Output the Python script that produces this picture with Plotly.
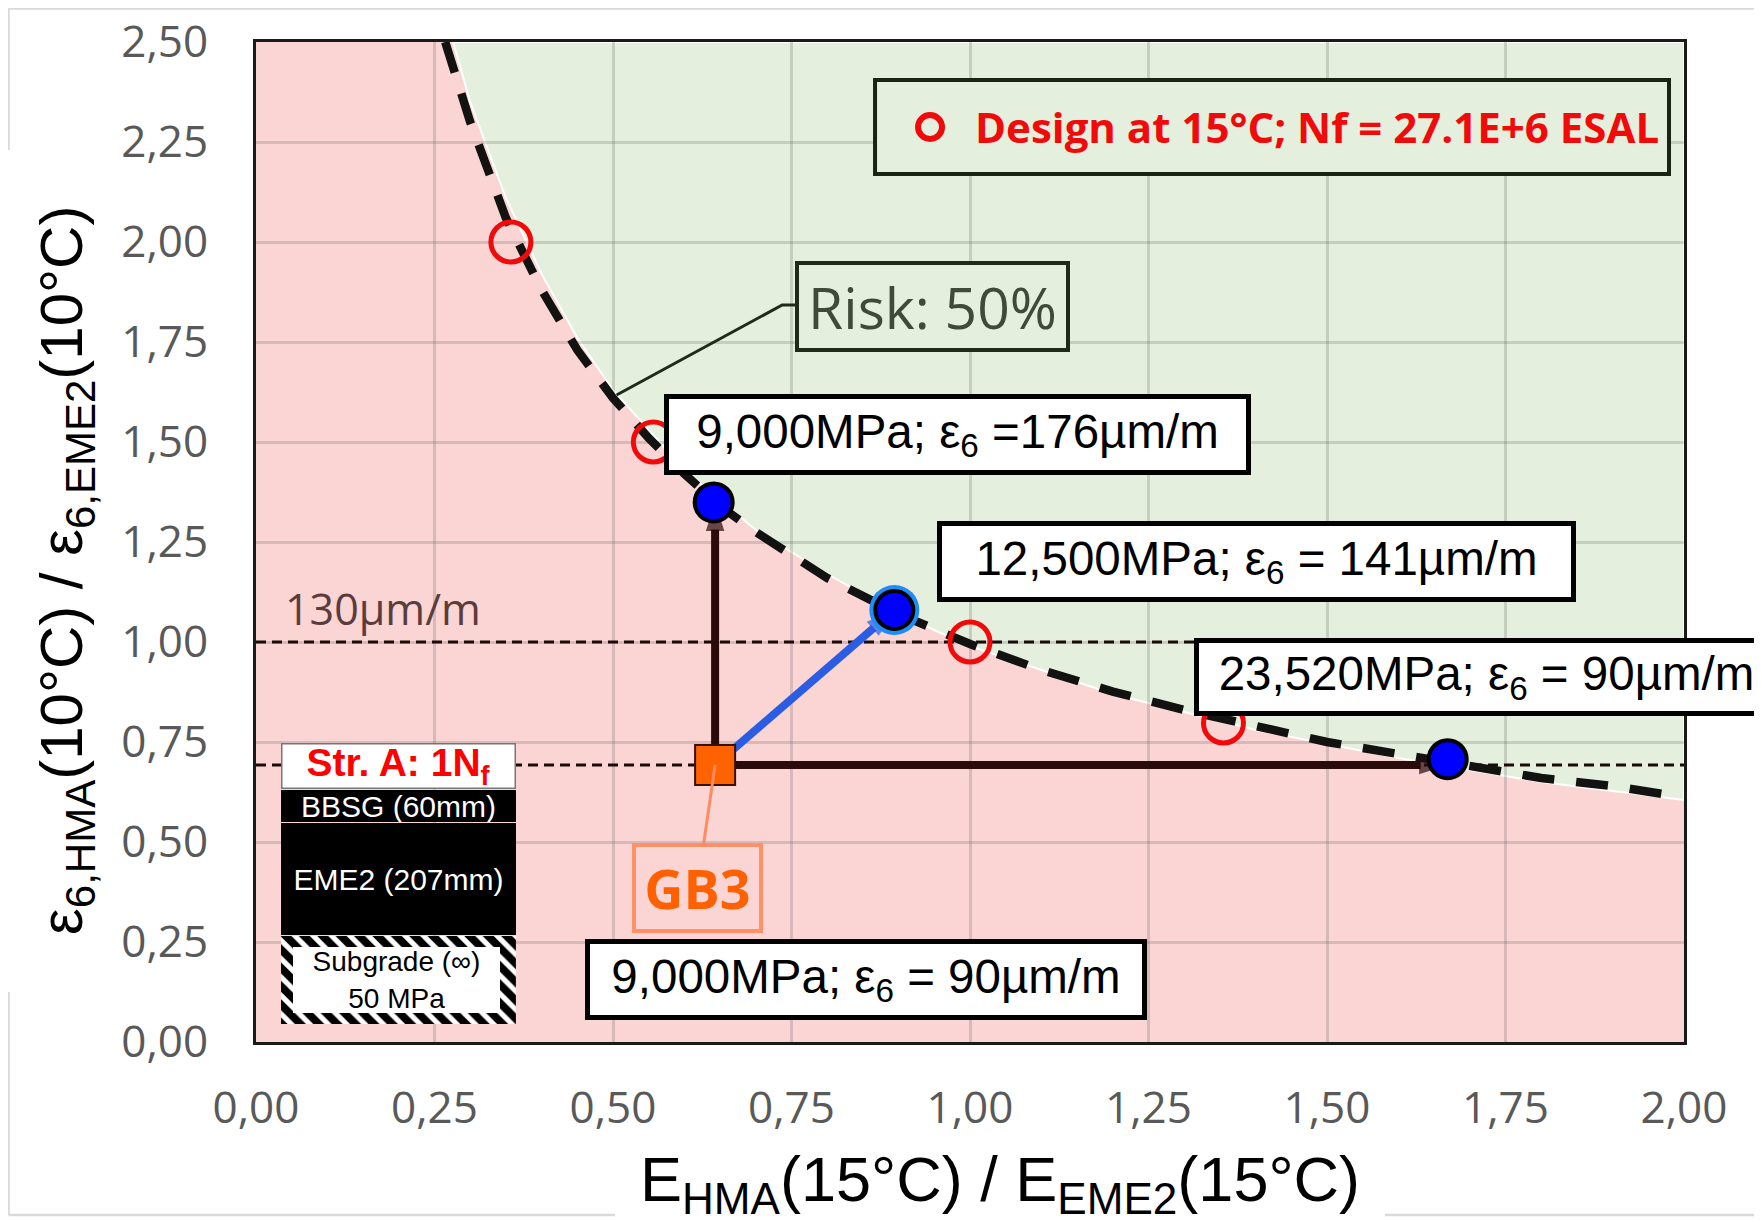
import plotly.graph_objects as go

# ---------------- data ----------------
x_tick_vals = [0.0, 0.25, 0.5, 0.75, 1.0, 1.25, 1.5, 1.75, 2.0]
x_tick_text = ["0,00", "0,25", "0,50", "0,75", "1,00", "1,25", "1,50", "1,75", "2,00"]
y_tick_vals = [0.0, 0.25, 0.5, 0.75, 1.0, 1.25, 1.5, 1.75, 2.0, 2.25, 2.5]
y_tick_text = ["0,00", "0,25", "0,50", "0,75", "1,00", "1,25", "1,50", "1,75", "2,00", "2,25", "2,50"]

# Risk 50% curve (dashed)
risk_x = [0.265, 0.30, 0.35, 0.40, 0.45, 0.50, 0.55, 0.60, 0.65, 0.70, 0.80, 0.90, 1.00,
          1.10, 1.20, 1.30, 1.40, 1.50, 1.60, 1.70, 1.80, 1.90, 1.97]
risk_y = [2.50, 2.30, 2.06, 1.88, 1.73, 1.61, 1.51, 1.42, 1.34, 1.275, 1.16, 1.07, 0.995,
          0.93, 0.876, 0.83, 0.79, 0.75, 0.72, 0.69, 0.66, 0.64, 0.62]

# boundary between the green (safe) and pink (risk) regions
zone_x = [0.276, 0.30, 0.35, 0.40, 0.45, 0.50, 0.60, 0.70, 0.80, 0.90, 1.00, 1.20, 1.40, 1.60, 1.80, 2.00]
zone_y = [2.50, 2.35, 2.11, 1.92, 1.76, 1.63, 1.43, 1.28, 1.17, 1.07, 0.99, 0.87, 0.78, 0.71, 0.65, 0.605]

# Design at 15°C (red open circles)
design_x = [0.357, 0.5565, 1.00, 1.355]
design_y = [2.00, 1.50, 1.00, 0.7975]
design_label = "<b>Design at 15°C; Nf = 27.1E+6 ESAL</b>"

# GB3 starting point
gb3_x = [0.643]
gb3_y = [0.6925]

# target mixes (blue points): 9,000 / 12,500 / 23,520 MPa
blue_x = [0.641, 0.894, 1.669]
blue_y = [1.349, 1.080, 0.707]

# reference strain levels (130 µm/m and 90 µm/m)
ref_levels = [1.0, 0.6925]
x_range = [0.0, 2.0]
y_range = [0.0, 2.5]

# ---------------- styling ----------------
PINK = "rgb(251,212,212)"
GREEN = "rgb(229,239,221)"
DARK = "#2a0a0a"
BLUE_ARROW = "rgb(42,92,228)"
RED = "rgb(240,10,10)"
FONT_ARIAL = "Liberation Sans"
FONT_CAL = "Open Sans"

fig = go.Figure()

# reference dashed lines
for lvl in ref_levels:
    fig.add_trace(go.Scatter(x=x_range, y=[lvl, lvl], mode="lines",
                             line=dict(color="#1a0a0a", width=3, dash="10px,6px"),
                             showlegend=False, hoverinfo="skip"))

# risk curve
fig.add_trace(go.Scatter(x=risk_x, y=risk_y, mode="lines",
                         line=dict(color="#121210", width=8.5, dash="32px,22px"),
                         showlegend=False, hoverinfo="skip"))

# arrows GB3 -> targets
arrow_targets = [
    (gb3_x[0], blue_y[0], DARK),           # vertical
    (blue_x[2], gb3_y[0], DARK),           # horizontal
    (blue_x[1], blue_y[1], BLUE_ARROW),    # diagonal
]
for tx, ty, col in arrow_targets:
    fig.add_trace(go.Scatter(x=[gb3_x[0], tx], y=[gb3_y[0], ty], mode="lines+markers",
                             line=dict(color=col, width=8),
                             marker=dict(symbol="arrow", angleref="previous", size=[0, 30],
                                         color=col, line=dict(width=0)),
                             showlegend=False, hoverinfo="skip"))

# halo around the 12,500 MPa point
fig.add_trace(go.Scatter(x=[blue_x[1]], y=[blue_y[1]], mode="markers",
                         marker=dict(size=50, color="rgb(30,140,250)", line=dict(width=0)),
                         showlegend=False, hoverinfo="skip"))
# blue points
fig.add_trace(go.Scatter(x=blue_x, y=blue_y, mode="markers",
                         marker=dict(size=38, color="#0000ff", line=dict(color="black", width=4)),
                         showlegend=False, hoverinfo="skip"))
# GB3 square
fig.add_trace(go.Scatter(x=gb3_x, y=gb3_y, mode="markers",
                         marker=dict(symbol="square", size=40, color="#ff6200",
                                     line=dict(color="#3a1000", width=2)),
                         showlegend=False, hoverinfo="skip"))
# design circles
fig.add_trace(go.Scatter(x=design_x, y=design_y, mode="markers", name=design_label,
                         legendgroup="design",
                         marker=dict(symbol="circle-open", size=40, color=RED,
                                     line=dict(width=5, color=RED)),
                         showlegend=False, hoverinfo="skip"))
# legend entry for the design circles (symbol drawn larger below, Excel-style)
fig.add_trace(go.Scatter(x=[None], y=[None], mode="markers", name=design_label,
                         legendgroup="design",
                         marker=dict(symbol="circle-open", size=16, color="rgba(0,0,0,0)",
                                     line=dict(width=0, color="rgba(0,0,0,0)")),
                         showlegend=True, hoverinfo="skip"))

# structure diagram: hatched subgrade block
hx0, hx1, hy0, hy1 = 0.035, 0.364, 0.045, 0.265
fig.add_trace(go.Scatter(x=[hx0, hx1, hx1, hx0, hx0], y=[hy0, hy0, hy1, hy1, hy0],
                         mode="lines", fill="toself", fillcolor="white",
                         fillpattern=dict(shape="\\", fgcolor="#000000", bgcolor="#ffffff",
                                          fgopacity=1, fillmode="replace",
                                          size=13, solidity=0.6),
                         line=dict(width=0, color="black"),
                         showlegend=False, hoverinfo="skip"))

# ---------------- shapes ----------------
shapes = []
# green (safe) region, drawn beneath grid lines
path = "M " + " L ".join(f"{x},{y}" for x, y in zip(zone_x, zone_y))
path += f" L {x_range[1]},{y_range[1]} Z"
shapes.append(dict(type="path", path=path, xref="x", yref="y", layer="below",
                   fillcolor=GREEN, line=dict(color="white", width=2)))

# legend frame
LEG_X = 0.4405
shapes.append(dict(type="rect", xref="paper", yref="paper", x0=0.4335, x1=0.9895, y0=0.868, y1=0.962,
                   fillcolor=GREEN, line=dict(color="#1a2414", width=4), layer="above"))
# legend ring symbol
shapes.append(dict(type="circle", xref="paper", yref="paper", xsizemode="pixel", ysizemode="pixel",
                   xanchor=LEG_X, yanchor=0.915, x0=33, x1=57, y0=-12, y1=12,
                   line=dict(color=RED, width=6), fillcolor="rgba(0,0,0,0)", layer="above"))

# Risk leader line
shapes.append(dict(type="path", xref="x", yref="y", layer="above",
                   path="M 0.505,1.6175 L 0.737,1.8425 L 0.756,1.8425",
                   line=dict(color="#1f2a1a", width=3)))

# outer chart-area border (light grey), interrupted by the axis titles
BORDER = "#d9d9d9"
for seg in [(-0.1733, 1.0335, 1.06, 1.0335),
            (-0.1733, 1.0335, -0.1733, 0.892),
            (-0.1733, 0.050, -0.1733, -0.173),
            (-0.1733, -0.173, 0.2514, -0.173),
            (0.7906, -0.173, 1.06, -0.173)]:
    shapes.append(dict(type="line", xref="paper", yref="paper",
                       x0=seg[0], y0=seg[1], x1=seg[2], y1=seg[3],
                       line=dict(color=BORDER, width=2.5)))

# ---------------- annotations ----------------
ann = []
def callout(text, x, y, w, h):
    ann.append(dict(x=x, y=y, xref="x", yref="y", text=text, showarrow=False,
                    font=dict(family=FONT_ARIAL, size=47.5, color="black"),
                    bgcolor="white", bordercolor="black", borderwidth=5, borderpad=0,
                    width=w, height=h, xanchor="center", yanchor="middle", align="center"))

callout("9,000MPa; ε<sub>6</sub> =176µm/m", 0.983, 1.519, 577, 71)
callout("12,500MPa; ε<sub>6</sub> = 141µm/m", 1.4017, 1.201, 629, 71)
callout("23,520MPa; ε<sub>6</sub> = 90µm/m", 1.7236, 0.9125, 575, 68)
callout("9,000MPa; ε<sub>6</sub> = 90µm/m", 0.8537, 0.156, 552, 71)

# Risk label
ann.append(dict(x=0.9468, y=1.8388, xref="x", yref="y", text="Risk: 50%", showarrow=False,
                font=dict(family=FONT_CAL, size=57, color="#3f4a38"),
                bgcolor=GREEN, bordercolor="#1f2a1a", borderwidth=4, borderpad=0,
                width=267, height=83))

# GB3 label with leader to the square
ann.append(dict(x=gb3_x[0], y=gb3_y[0], xref="x", yref="y", ax=0.6179, ay=0.385,
                axref="x", ayref="y", text="<b>GB3</b>", showarrow=True, arrowhead=0,
                arrowwidth=3, arrowcolor="#ff8c60", standoff=0,
                font=dict(family=FONT_CAL, size=54, color="#ff6000"),
                bgcolor="rgba(0,0,0,0)", bordercolor="#ff9068", borderwidth=4, borderpad=0,
                width=123, height=82))

# 130 µm/m label
ann.append(dict(x=0.038, y=1.085, xref="x", yref="y", text="130µm/m", showarrow=False,
                xanchor="left", yanchor="middle",
                font=dict(family=FONT_CAL, size=43, color="#5b3c3c")))

# structure diagram
ann.append(dict(x=0.1995, y=0.690, xref="x", yref="y", text="<b>Str. A: 1N<sub>f</sub></b>",
                showarrow=False, font=dict(family=FONT_ARIAL, size=39, color="#ff0000"),
                bgcolor="white", bordercolor="#777777", borderwidth=1.5, borderpad=0,
                width=232, height=43))
ann.append(dict(x=0.1995, y=0.591, xref="x", yref="y", text="BBSG (60mm)",
                showarrow=False, font=dict(family=FONT_ARIAL, size=30, color="white"),
                bgcolor="black", borderwidth=0, borderpad=0, width=235, height=32))
ann.append(dict(x=0.1995, y=0.4075, xref="x", yref="y", text="EME2 (207mm)",
                showarrow=False, font=dict(family=FONT_ARIAL, size=30, color="white"),
                bgcolor="black", borderwidth=0, borderpad=0, width=235, height=112))
ann.append(dict(x=0.1971, y=0.155, xref="x", yref="y", text="Subgrade (∞)<br>50 MPa",
                showarrow=False, font=dict(family=FONT_ARIAL, size=28, color="black"),
                bgcolor="white", borderwidth=0, borderpad=0, width=207, height=66))

# axis titles (placed as in the original, slightly off-centre)
ann.append(dict(x=0.521, y=-0.141, xref="paper", yref="paper", showarrow=False,
                text="E<sub>HMA</sub>(15°C) / E<sub>EME2</sub>(15°C)",
                xanchor="center", yanchor="middle",
                font=dict(family=FONT_ARIAL, size=63, color="black")))
ann.append(dict(x=-0.1331, y=0.472, xref="paper", yref="paper", showarrow=False,
                text="ε<sub>6,HMA</sub>(10°C) / ε<sub>6,EME2</sub>(10°C)", textangle=-90,
                xanchor="center", yanchor="middle",
                font=dict(family=FONT_ARIAL, size=60, color="black")))

fig.update_layout(
    width=1754, height=1214,
    margin=dict(l=248, r=78, t=34, b=180),
    paper_bgcolor="white", plot_bgcolor=PINK,
    shapes=shapes, annotations=ann,
    showlegend=True,
    legend=dict(x=LEG_X, y=0.915, xanchor="left", yanchor="middle",
                bgcolor="rgba(0,0,0,0)", borderwidth=0, itemwidth=80,
                font=dict(family=FONT_CAL, size=42, color=RED)),
    xaxis=dict(range=x_range, tickvals=x_tick_vals, ticktext=x_tick_text,
               showgrid=True, gridcolor="rgba(90,90,90,0.22)", gridwidth=2.5,
               zeroline=False, showline=True, mirror=True, linecolor="#1a1a1a", linewidth=3,
               ticks="", ticklabelstandoff=25, automargin=False,
               tickfont=dict(family=FONT_CAL, size=44, color="#595959")),
    yaxis=dict(range=y_range, tickvals=y_tick_vals, ticktext=y_tick_text,
               showgrid=True, gridcolor="rgba(90,90,90,0.22)", gridwidth=2.5,
               zeroline=False, showline=True, mirror=True, linecolor="#1a1a1a", linewidth=3,
               ticks="", ticklabelstandoff=36, automargin=False,
               tickfont=dict(family=FONT_CAL, size=44, color="#595959")),
)

fig.write_html("out.html")
